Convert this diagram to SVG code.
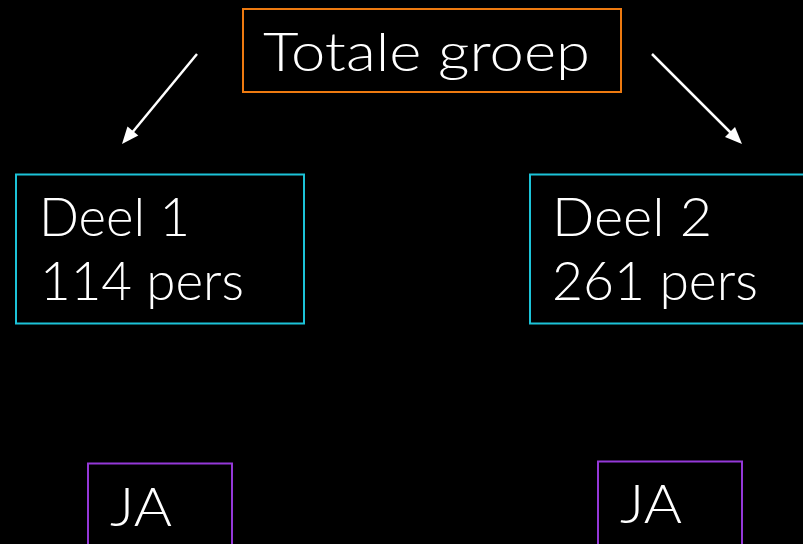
<svg xmlns="http://www.w3.org/2000/svg" width="803" height="544" viewBox="0 0 803 544">
<defs>
<style>
.t{font-family:"Lato","Liberation Sans","DejaVu Sans",sans-serif;font-weight:300;font-size:53px;fill:#ffffff}
.box{fill:none;stroke-width:2}
.o{stroke:#EE7A10}
.c{stroke:#1CC3D8}
.p{stroke:#9438D8}
.arr{stroke:#ffffff;stroke-width:2.5;fill:none}
.head{fill:#ffffff}
</style>
</defs>
<rect width="803" height="544" fill="#000000"/>
<g id="connectors">
<line class="arr" x1="197" y1="54" x2="131" y2="134"/>
<path class="head" d="M122,144 L127.5,126.4 L138.3,135.4 z"/>
<line class="arr" x1="652" y1="54" x2="733" y2="135"/>
<path class="head" d="M742,144 L735,127 L725,137 z"/>
</g>
<g id="totale">
<rect class="box o" x="243" y="9" width="378" height="83"/>
<text class="t" x="263" y="71" textLength="327" lengthAdjust="spacingAndGlyphs">Totale groep</text>
</g>
<g id="deel1">
<rect class="box c" x="16" y="174.5" width="288" height="149"/>
<text class="t" x="39" y="236" textLength="151" lengthAdjust="spacingAndGlyphs">Deel 1</text>
<text class="t" x="40" y="300" textLength="204" lengthAdjust="spacingAndGlyphs">114 pers</text>
</g>
<g id="deel2">
<rect class="box c" x="530" y="174.5" width="290" height="149"/>
<text class="t" x="552" y="236" textLength="160" lengthAdjust="spacingAndGlyphs">Deel 2</text>
<text class="t" x="552" y="300" textLength="206" lengthAdjust="spacingAndGlyphs">261 pers</text>
</g>
<g id="ja1">
<rect class="box p" x="88" y="463.5" width="144" height="100"/>
<text class="t" x="110" y="526" textLength="62" lengthAdjust="spacingAndGlyphs">JA</text>
</g>
<g id="ja2">
<rect class="box p" x="598" y="461.5" width="144" height="100"/>
<text class="t" x="620" y="523" textLength="62" lengthAdjust="spacingAndGlyphs">JA</text>
</g>
</svg>
